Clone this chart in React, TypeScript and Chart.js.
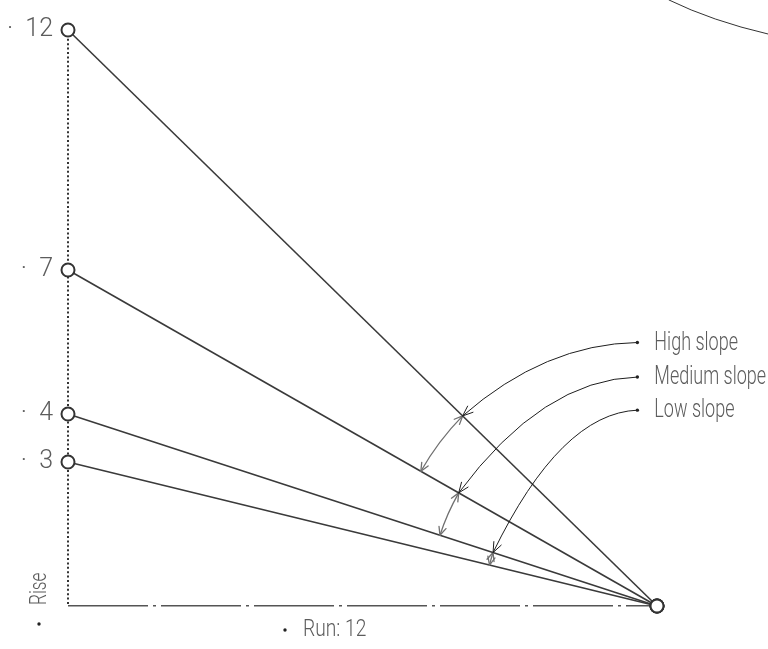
import React, { useEffect, useRef } from 'react';
import { Chart, registerables } from 'chart.js';

Chart.register(...registerables);

// ---- data ----
const riseValues = [12, 7, 4, 3];
const runValue = 12;
const yTickValues = [12, 7, 4, 3, 0];
const xTickValues = [0];
const slopeLabels = ['High slope', 'Medium slope', 'Low slope'];
const arcUpperLine = [0, 1, 2]; // index into riseValues (arc goes to next line)
const arcStartRun = [8.04, 7.96, 8.66];
const labelAnchorRun = 11.6;
const labelAnchorRise = [5.49, 4.77, 4.08];
const axisTitleY = 'Rise';
const axisTitleX = 'Run: 12';

const FONT = "Roboto, 'Liberation Sans', sans-serif";
const TEXT_COLOR = '#5c5c5c';

function arrowHead(ctx: CanvasRenderingContext2D, tx: number, ty: number, dx: number, dy: number, len = 10, spread = 0.42) {
  const n = Math.hypot(dx, dy) || 1;
  const ux = dx / n, uy = dy / n;
  ctx.beginPath();
  for (const s of [spread, -spread]) {
    const c = Math.cos(s), si = Math.sin(s);
    const rx = ux * c - uy * si, ry = ux * si + uy * c;
    ctx.moveTo(tx, ty);
    ctx.lineTo(tx - rx * len, ty - ry * len);
  }
  ctx.stroke();
}

function narrowText(ctx: CanvasRenderingContext2D, text: string, x: number, y: number, size: number, sx: number, rot = 0) {
  ctx.save();
  ctx.translate(x, y);
  if (rot) ctx.rotate(rot);
  ctx.scale(sx, 1);
  ctx.font = `300 ${size}px ${FONT}`;
  ctx.fillStyle = TEXT_COLOR;
  ctx.textAlign = 'left';
  ctx.textBaseline = 'middle';
  ctx.fillText(text, 0, 0);
  ctx.restore();
}

function dot(ctx: CanvasRenderingContext2D, x: number, y: number) {
  ctx.fillStyle = '#222';
  ctx.beginPath();
  ctx.arc(x, y, 1.7, 0, Math.PI * 2);
  ctx.fill();
}

const annotPlugin = {
  id: 'slopeAnnot',
  afterDatasetsDraw(chart: any) {
    const ctx: CanvasRenderingContext2D = chart.ctx;
    const xs = chart.scales.x, ys = chart.scales.y;
    const px = (v: number) => xs.getPixelForValue(v);
    const py = (v: number) => ys.getPixelForValue(v);
    const area = chart.chartArea;
    const V = { x: px(runValue), y: py(0) };
    const lineY = (rise: number, run: number) => rise * (1 - run / runValue);
    ctx.save();
    ctx.lineCap = 'round';

    // angle arcs between lines
    arcUpperLine.forEach((li, i) => {
      const upper = riseValues[li], lower = riseValues[li + 1];
      const sx = arcStartRun[i];
      const P = { x: px(sx), y: py(lineY(upper, sx)) };
      const r = Math.hypot(P.x - V.x, P.y - V.y);
      const a1 = Math.atan2(P.y - V.y, P.x - V.x);
      const L = { x: px(0), y: py(lower) };
      const a2 = Math.atan2(L.y - V.y, L.x - V.x);
      ctx.strokeStyle = '#707070';
      ctx.lineWidth = 1.3;
      ctx.beginPath();
      ctx.arc(V.x, V.y, r, a1, a2, true);
      ctx.stroke();
      arrowHead(ctx, P.x, P.y, -Math.sin(a1), Math.cos(a1), 9);
      const Ex = V.x + r * Math.cos(a2), Ey = V.y + r * Math.sin(a2);
      arrowHead(ctx, Ex, Ey, Math.sin(a2), -Math.cos(a2), 9);
    });

    // labels with curved arrows
    slopeLabels.forEach((label, i) => {
      const li = arcUpperLine[i];
      const sx = arcStartRun[i];
      const T = { x: px(sx), y: py(lineY(riseValues[li], sx)) };
      const D = { x: px(labelAnchorRun), y: py(labelAnchorRise[i]) };
      const C = { x: T.x + 0.47 * (D.x - T.x), y: D.y + 0.02 * (T.y - D.y) };
      ctx.strokeStyle = '#1e1e1e';
      ctx.lineWidth = 1;
      ctx.beginPath();
      ctx.moveTo(D.x, D.y);
      ctx.quadraticCurveTo(C.x, C.y, T.x, T.y);
      ctx.stroke();
      arrowHead(ctx, T.x, T.y, T.x - C.x, T.y - C.y, 11, 0.38);
      dot(ctx, D.x, D.y);
      narrowText(ctx, label, D.x + 17, D.y + 1, 25, 0.72);
    });

    // axis titles
    narrowText(ctx, axisTitleY, area.left - 28, area.bottom - 1, 24, 0.72, -Math.PI / 2);
    dot(ctx, area.left - 29, area.bottom + 18);
    dot(ctx, area.left + 217, area.bottom + 24);
    narrowText(ctx, axisTitleX, area.left + 235, area.bottom + 24, 24, 0.8);

    // stray curve fragment at top right
    ctx.strokeStyle = '#333';
    ctx.lineWidth = 1;
    ctx.beginPath();
    ctx.moveTo(area.right + 12, 0);
    ctx.quadraticCurveTo(area.right + 55, 21, chart.width, 34);
    ctx.stroke();

    ctx.restore();
  },
};

export default function App() {
  const ref = useRef<HTMLCanvasElement>(null);
  useEffect(() => {
    const chart = new Chart(ref.current as HTMLCanvasElement, {
      type: 'scatter',
      data: {
        datasets: riseValues.map((v) => ({
          label: `Rise ${v}`,
          data: [
            { x: 0, y: v },
            { x: runValue, y: 0 },
          ],
          showLine: true,
          borderColor: '#3a3a3a',
          borderWidth: 1.6,
          pointRadius: 6.5,
          pointHoverRadius: 6.5,
          pointBorderWidth: 2,
          pointBorderColor: '#333',
          pointBackgroundColor: '#fff',
          clip: false,
          tension: 0,
        })),
      },
      options: {
        animation: false,
        responsive: false,
        devicePixelRatio: 1,
        layout: { padding: { left: 0, top: 20, right: 111, bottom: 0 } },
        plugins: { legend: { display: false }, tooltip: { enabled: false } },
        events: [],
        scales: {
          x: {
            type: 'linear',
            min: 0,
            max: runValue,
            afterFit: (s: any) => { s.height = 43; },
            afterBuildTicks: (s: any) => { s.ticks = xTickValues.map((v) => ({ value: v })); },
            grid: { display: true, drawTicks: false, drawOnChartArea: true, color: '#333', lineWidth: 2 },
            border: { display: false, dash: [2, 2.4] },
            ticks: { display: false },
          },
          y: {
            type: 'linear',
            min: 0,
            max: 12,
            afterFit: (s: any) => { s.width = 68; },
            afterBuildTicks: (s: any) => { s.ticks = yTickValues.map((v) => ({ value: v })); },
            grid: {
              display: true,
              drawTicks: false,
              drawOnChartArea: true,
              color: (c: any) => (c.tick && c.tick.value === 0 ? '#555' : 'rgba(0,0,0,0)'),
              lineWidth: 1.5,
            },
            border: { display: false, dash: [80, 5, 3, 5] },
            ticks: {
              color: TEXT_COLOR,
              font: { family: FONT, size: 25, weight: '300' },
              padding: 15,
              autoSkip: false,
              callback: (v: any) => (v === 0 ? '' : `·  ${v}`),
            },
          },
        },
      } as any,
      plugins: [annotPlugin],
    });
    return () => chart.destroy();
  }, []);
  return (
    <div style={{ position: 'absolute', left: 0, top: 0, width: 768, height: 649, background: '#fff' }}>
      <canvas ref={ref} width={768} height={649} style={{ display: 'block' }} />
    </div>
  );
}
